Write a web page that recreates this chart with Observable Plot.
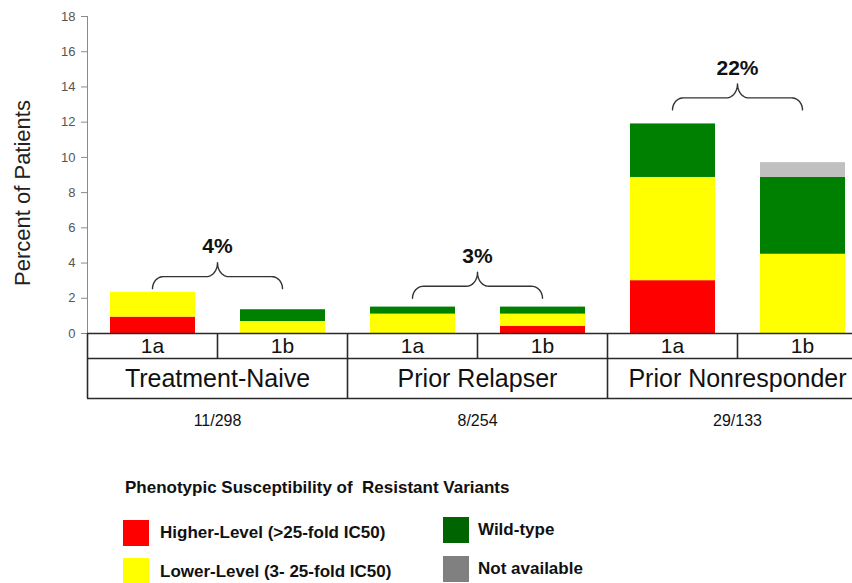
<!DOCTYPE html>
<html>
<head>
<meta charset="utf-8">
<script src="https://cdn.jsdelivr.net/npm/d3@7"></script>
<script src="https://cdn.jsdelivr.net/npm/@observablehq/plot@0.6"></script>
<style>
  html, body { margin: 0; padding: 0; background: #fff; overflow: hidden; width: 852px; height: 583px; }
  body { position: relative; font-family: "Liberation Sans", Arial, sans-serif; }
  #chart { position: absolute; left: 0; top: 0; }
  .lg { position: absolute; font-weight: bold; font-size: 17px; line-height: 20px; color: #111; white-space: pre; }
  .sw { position: absolute; width: 26px; height: 26px; }
</style>
</head>
<body>
<div id="chart"></div>
<div id="legend"></div>
<script>
// ---- data ----
const groups = ["Treatment-Naive", "Prior Relapser", "Prior Nonresponder"];
const genotypes = ["1a", "1b"];
const fractions = ["11/298", "8/254", "29/133"];
const bracketLabels = ["4%", "3%", "22%"];
const bracketBase = [2.55, 2.0, 12.7];
const categories = ["Higher-Level (>25-fold IC50)", "Lower-Level (3- 25-fold IC50)", "Wild-type", "Not available"];
// bars in order: TN 1a, TN 1b, PR 1a, PR 1b, PN 1a, PN 1b
const higher = [0.93, 0, 0, 0.41, 3.0, 0];
const lower  = [1.41, 0.68, 1.1, 0.69, 5.86, 4.5];
const wild   = [0, 0.67, 0.4, 0.4, 3.04, 4.36];
const notAvailable = [0, 0, 0, 0, 0, 0.84];
const yTicks = [0, 2, 4, 6, 8, 10, 12, 14, 16, 18];

// ---- styles ----
const barColors = ["#ff0000", "#ffff00", "#008000", "#c0c0c0"];
const legendColors = ["#ff0000", "#ffff00", "#006400", "#808080"];

// ---- build table ----
const series = [higher, lower, wild, notAvailable];
const bars = [];
const nBars = groups.length * genotypes.length;
for (let i = 0; i < nBars; i++) {
  let acc = 0;
  series.forEach((s, k) => {
    const v = s[i];
    if (v > 0) {
      bars.push({i, category: categories[k], y1: acc, y2: acc + v});
      acc += v;
    }
  });
}
const genoCells = d3.range(nBars).map(i => ({x: i + 0.5, label: genotypes[i % 2]}));
const groupCells = groups.map((g, j) => ({x: 2 * j + 1, label: g, frac: fractions[j]}));

const width = 870, height = 440, mL = 87, mR = 3, mT = 16, mB = 107;
const yMax = 18;
const plotH = height - mT - mB;
const sx = nBars / (width - mL - mR); // units per px
const sy = yMax / plotH;
const row1 = -25 * sy, row2 = -65 * sy;

// brace shape points (px offsets converted to data units)
const braces = [];
groups.forEach((g, j) => {
  const x0 = 2 * j + 0.5, x1 = 2 * j + 1.5, base = bracketBase[j];
  const Wpx = (x1 - x0) / sx;
  const r1 = 11, h1 = 12, r2 = 11, h2 = 14, n = 12;
  const half = [];
  for (let k = 0; k <= n; k++) {
    const t = (k / n) * Math.PI / 2;
    half.push([r1 - r1 * Math.cos(t), h1 * Math.sin(t)]);
  }
  for (let k = 0; k <= n; k++) {
    const t = (k / n) * Math.PI / 2;
    half.push([Wpx / 2 - r2 + r2 * Math.sin(t), h1 + h2 - h2 * Math.cos(t)]);
  }
  const full = half.concat(half.slice().reverse().map(([px, py]) => [Wpx - px, py]));
  full.forEach(([px, py]) => braces.push({g: j, x: x0 + px * sx, y: base + py * sy}));
});
const braceLabels = groups.map((g, j) => ({x: 2 * j + 1, y: bracketBase[j], label: bracketLabels[j]}));

const lineColor = "#2a2a2a";
const chart = Plot.plot({
  width, height,
  marginLeft: mL, marginRight: mR, marginTop: mT, marginBottom: mB,
  style: {fontFamily: "'Liberation Sans', Arial, sans-serif", maxWidth: "none", overflow: "visible", background: "white"},
  x: {domain: [0, nBars], axis: null},
  y: {domain: [0, yMax], axis: null},
  color: {domain: categories, range: barColors},
  marks: [
    Plot.rectY(bars, {x1: d => d.i, x2: d => d.i + 1, y1: "y1", y2: "y2", fill: "category", insetLeft: 23, insetRight: 22}),
    Plot.axisY({ticks: yTicks, tickSize: 6, tickPadding: 6, fontSize: 13, stroke: "#8a8a8a", fill: "#555", label: null}),
    Plot.ruleX([0], {y1: 0, y2: yMax, stroke: "#8a8a8a"}),
    Plot.text(["Percent of Patients"], {frameAnchor: "left", textAnchor: "middle", rotate: -90, dx: -65, dy: 18, fontSize: 22, fill: "#222"}),
    // table
    Plot.ruleY([0, row1, row2], {x1: 0, x2: nBars, stroke: lineColor, strokeWidth: 1.6}),
    Plot.ruleX(d3.range(0, nBars + 1, 2), {y1: 0, y2: row2, stroke: lineColor, strokeWidth: 1.6}),
    Plot.ruleX(d3.range(1, nBars, 2), {y1: 0, y2: row1, stroke: lineColor, strokeWidth: 1.6}),
    Plot.text(genoCells, {x: "x", y: 0, dy: 13, text: "label", fontSize: 21, fill: "#111"}),
    Plot.text(groupCells, {x: "x", y: 0, dy: 45, text: "label", fontSize: 25, fill: "#111"}),
    Plot.text(groupCells, {x: "x", y: 0, dy: 87, text: "frac", fontSize: 16, fill: "#111"}),
    // braces
    Plot.line(braces, {x: "x", y: "y", z: "g", stroke: "#333", strokeWidth: 1.4}),
    Plot.text(braceLabels, {x: "x", y: "y", dy: -42, text: "label", fontSize: 21, fontWeight: "bold", fill: "#111"})
  ]
});
document.getElementById("chart").appendChild(chart);

// ---- legend ----
const legend = document.getElementById("legend");
const title = document.createElement("div");
title.className = "lg";
title.style.left = "125px"; title.style.top = "478px";
title.textContent = "Phenotypic Susceptibility of  Resistant Variants";
legend.appendChild(title);
const legendPos = [
  {sx: 123, sy: 520, tx: 160, ty: 523},
  {sx: 123, sy: 558, tx: 160, ty: 562},
  {sx: 443, sy: 517, tx: 478, ty: 520},
  {sx: 443, sy: 556, tx: 478, ty: 559}
];
categories.forEach((c, k) => {
  const p = legendPos[k];
  const sw = document.createElement("div");
  sw.className = "sw";
  sw.style.left = p.sx + "px"; sw.style.top = p.sy + "px"; sw.style.background = legendColors[k];
  legend.appendChild(sw);
  const t = document.createElement("div");
  t.className = "lg";
  t.style.left = p.tx + "px"; t.style.top = p.ty + "px";
  t.textContent = c;
  legend.appendChild(t);
});
</script>
</body>
</html>
